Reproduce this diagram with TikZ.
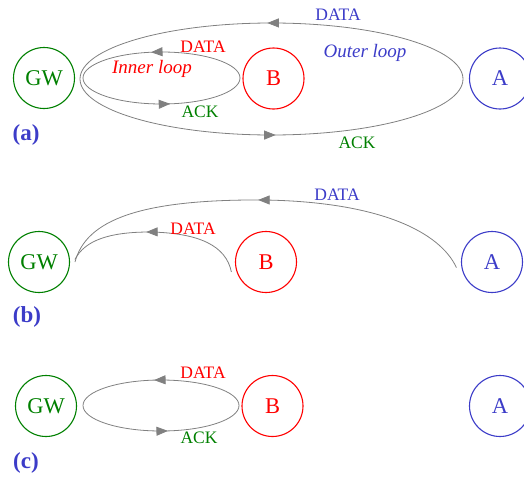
\documentclass[tikz,border=0pt]{standalone}
\usepackage{fontspec}
\setmainfont{Liberation Serif}
\usetikzlibrary{arrows.meta,decorations.markings}

\definecolor{gwgreen}{RGB}{0,128,0}
\definecolor{bred}{RGB}{255,0,0}
\definecolor{ablue}{RGB}{60,60,200}
\definecolor{linkgray}{RGB}{128,128,128}

\tikzset{
  station/.style={circle, draw, line width=1.1pt, minimum size=61pt, inner sep=0pt,
                  outer sep=5.5pt, font=\fontsize{22.5}{22.5}\selectfont},
  link/.style={draw=linkgray, line width=0.8pt},
  onearrow/.style={postaction={decorate}, decoration={markings,
      mark=at position #1 with {\arrow[linkgray]{Triangle[length=11.5pt,width=9pt]}}}},
  twoarrows/.style 2 args={postaction={decorate}, decoration={markings,
      mark=at position #1 with {\arrow[linkgray]{Triangle[length=11.5pt,width=9pt]}},
      mark=at position #2 with {\arrow[linkgray]{Triangle[length=11.5pt,width=9pt]}}}},
  msg/.style={font=\fontsize{17.5}{17.5}\selectfont},
  looplabel/.style={font=\fontsize{19}{19}\selectfont\itshape},
  panel/.style={text=ablue, font=\fontsize{23}{23}\selectfont\bfseries},
}

\begin{document}
\begin{tikzpicture}[x=1pt, y=-1pt]
\useasboundingbox (0,0) rectangle (524,479);

% ---------- (a) both loops ----------
\node[station, draw=gwgreen, text=gwgreen] (GWa) at (44,78) {GW};
\node[station, draw=bred, text=bred] (Ba) at (273.5,78.5) {B};
\node[station, draw=ablue, text=ablue] (Aa) at (500,78.5) {A};

% outer loop: right -> top -> left -> bottom
\path[link, twoarrows={0.255}{0.755}] (463,79) arc[start angle=0, end angle=-360, x radius=191.5, y radius=56];
% inner loop
\path[link, twoarrows={0.28}{0.775}] (240,78) arc[start angle=0, end angle=-360, x radius=78.5, y radius=26];

\node[msg, text=ablue] (da1) at (338,15) {DATA};
\node[looplabel, text=ablue] (ol) at (365,53) {Outer loop};
\node[msg, text=bred] (db1) at (203,47) {DATA};
\node[looplabel, text=bred] (il) at (152,69) {Inner loop};
\node[msg, text=gwgreen] (ka1) at (200,112) {ACK};
\node[msg, text=gwgreen] (ka2) at (357,143) {ACK};
\node[panel] (pa) at (26,135) {(a)};

% ---------- (b) data only ----------
\node[station, draw=gwgreen, text=gwgreen] (GWb) at (39,262) {GW};
\node[station, draw=bred, text=bred] (Bb) at (266,262) {B};
\node[station, draw=ablue, text=ablue] (Ab) at (492,262) {A};

\path[link, onearrow=0.515] (Ab.189) .. controls (440,232) and (380,202) .. (265,200)
  .. controls (140,199) and (86,220) .. (GWb.0);
\path[link, onearrow=0.56] (Bb.196) .. controls (226,246) and (200,233) .. (150,232)
  .. controls (110,232) and (85,240) .. (GWb.4);

\node[msg, text=ablue] (da2) at (337,195) {DATA};
\node[msg, text=bred] (db2) at (193,229) {DATA};
\node[panel] (pb) at (27,317) {(b)};

% ---------- (c) inner loop only ----------
\node[station, draw=gwgreen, text=gwgreen] (GWc) at (46,406) {GW};
\node[station, draw=bred, text=bred] (Bc) at (272.5,406) {B};
\node[station, draw=ablue, text=ablue] (Ac) at (500,406) {A};

\path[link, twoarrows={0.27}{0.77}] (239,405.5) arc[start angle=0, end angle=-360, x radius=78, y radius=25.5];

\node[msg, text=bred] (db3) at (203,373) {DATA};
\node[msg, text=gwgreen] (ka3) at (199,438) {ACK};
\node[panel] (pc) at (26,463) {(c)};
\end{tikzpicture}
\end{document}
